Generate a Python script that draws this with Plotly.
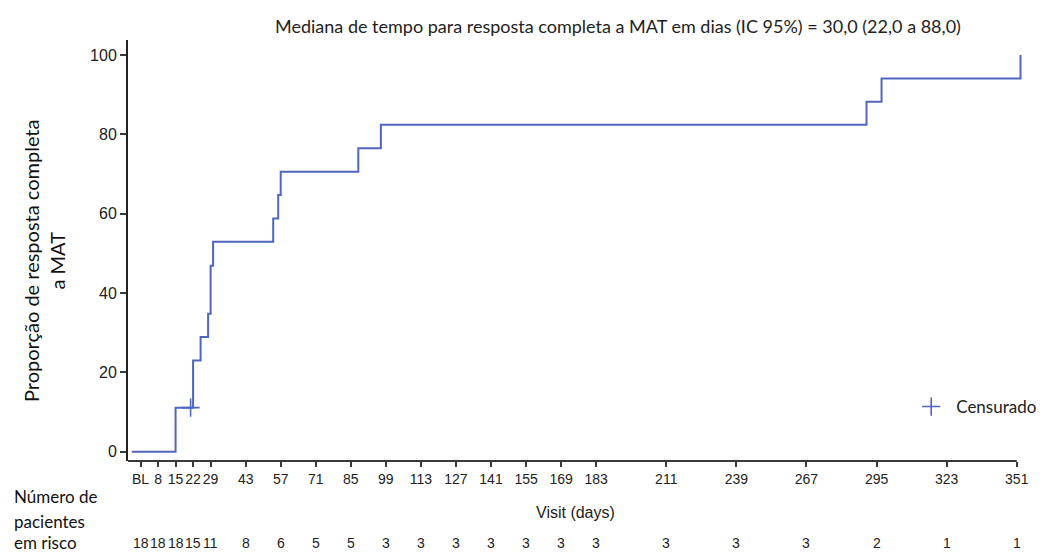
import plotly.graph_objects as go

# Kaplan-Meier style cumulative response curve
step_days = [-2.5, 15, 22, 25, 28, 29, 30, 54, 56, 57, 88, 97, 291, 297, 352.5]
step_pct = [0, 11.1, 23.0, 28.9, 34.8, 46.9, 52.9, 58.8, 64.7, 70.6, 76.5, 82.4, 88.2, 94.1, 100]

censor_days = [21]
censor_pct = [11.1]

tick_days = [1, 8, 15, 22, 29, 43, 57, 71, 85, 99, 113, 127, 141, 155, 169, 183, 211, 239, 267, 295, 323, 351]
tick_labels = ["BL", "8", "15", "22", "29", "43", "57", "71", "85", "99", "113", "127", "141", "155",
               "169", "183", "211", "239", "267", "295", "323", "351"]
at_risk = [18, 18, 18, 15, 11, 8, 6, 5, 5, 3, 3, 3, 3, 3, 3, 3, 3, 3, 3, 2, 1, 1]

y_ticks = [0, 20, 40, 60, 80, 100]

title_text = "Mediana de tempo para resposta completa a MAT em dias (IC 95%) = 30,0 (22,0 a 88,0)"
y_title = "Proporção de resposta completa<br>a MAT"
x_title = "Visit (days)"
risk_label = ["Número de", "pacientes", "em risco"]

LINE = "#4f66c0"
AX = "#3a3a3a"
ARIAL = "Liberation Sans, Arial, sans-serif"
CAL = "Lato, Open Sans, sans-serif"

fig = go.Figure()
fig.add_trace(go.Scatter(x=step_days, y=step_pct, mode="lines", line=dict(color=LINE, width=2, shape="hv"),
                         showlegend=False, hoverinfo="skip"))
fig.add_trace(go.Scatter(x=censor_days, y=censor_pct, mode="markers", name="Censurado",
                         marker=dict(symbol="cross-thin", size=13, line=dict(color=LINE, width=1.6), color=LINE),
                         showlegend=True))

X0, X1 = -4, 353.5
Y0, Y1 = -2.35, 103.8

fig.update_layout(
    width=1045, height=552,
    margin=dict(l=128, r=22, t=40, b=91, autoexpand=False),
    paper_bgcolor="white", plot_bgcolor="white",
    showlegend=True,
    legend=dict(x=0.8695, y=0.171, xanchor="left", yanchor="top", bgcolor="rgba(0,0,0,0)",
                itemwidth=40,
                font=dict(family=CAL, size=17, color="#222")),
    xaxis=dict(range=[X0, X1], tickmode="array", tickvals=tick_days, ticktext=tick_labels,
               ticks="outside", ticklen=5, tickwidth=1.5, tickcolor=AX, showline=False,
               showgrid=False, zeroline=False, tickangle=0, automargin=False,
               tickfont=dict(family=ARIAL, size=14, color="#222")),
    yaxis=dict(range=[Y0, Y1], tickmode="array", tickvals=y_ticks,
               ticks="outside", ticklen=6, tickwidth=1.5, tickcolor=AX, showline=True,
               linecolor="#222", linewidth=2, mirror=False, automargin=False,
               showgrid=False, zeroline=False,
               tickfont=dict(family=ARIAL, size=16, color="#222")),
)

# x axis line from range start to last tick
fig.add_shape(type="line", xref="x", yref="paper", x0=X0, x1=tick_days[-1], y0=0, y1=0,
              line=dict(color=AX, width=2))

annotations = []
annotations.append(dict(text=title_text, xref="paper", yref="paper", x=0.548, y=1.0, yshift=14,
                        xanchor="center", yanchor="middle", showarrow=False,
                        font=dict(family=CAL, size=18, color="#222")))
annotations.append(dict(text=y_title, xref="paper", yref="paper", x=0, xshift=-84, y=0.475,
                        xanchor="center", yanchor="middle", textangle=-90, showarrow=False,
                        font=dict(family=CAL, size=20, color="#111")))
annotations.append(dict(text=x_title, xref="paper", yref="paper", x=0.5, y=0, yshift=-51,
                        xanchor="center", yanchor="middle", showarrow=False,
                        font=dict(family=ARIAL, size=16, color="#222")))
for d, n in zip(tick_days, at_risk):
    annotations.append(dict(text=str(n), xref="x", yref="paper", x=d, y=0, yshift=-82,
                            xanchor="center", yanchor="middle", showarrow=False,
                            font=dict(family=ARIAL, size=14, color="#222")))
for i, (lbl, ys) in enumerate(zip(risk_label, [-35, -60, -81])):
    annotations.append(dict(text=lbl, xref="paper", yref="paper", x=0, xshift=-116, y=0, yshift=ys,
                            xanchor="left", yanchor="middle", showarrow=False,
                            font=dict(family=CAL, size=17, color="#111")))
fig.update_layout(annotations=annotations)

fig.write_html("out.html")
